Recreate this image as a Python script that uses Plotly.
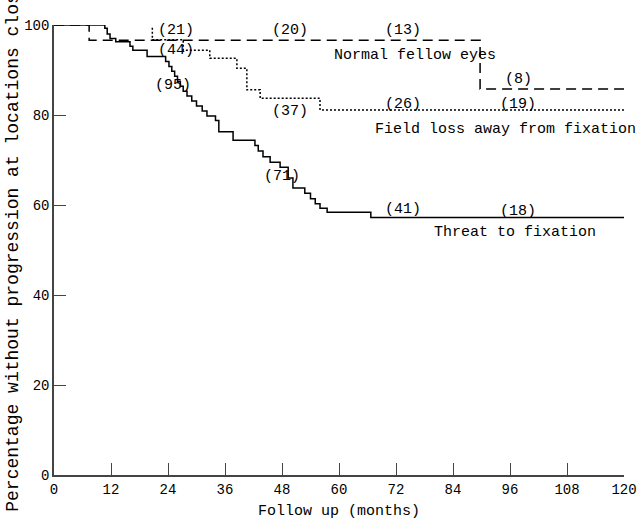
import plotly.graph_objects as go

# Kaplan-Meier style survival steps
threat_months = [0, 10.7, 11.2, 11.8, 13, 16, 16.6, 19.6, 23.5, 24.2, 24.8, 25.4, 26.0, 26.6,
                 27.2, 28.0, 29.0, 30.0, 31.2, 32.2, 34.0, 34.7, 37.7, 42.3, 43.0, 44.0, 45.5,
                 47.6, 49.3, 50.3, 52.8, 54.0, 55.0, 56.0, 57.5, 66.7, 120]
threat_pct = [100, 99.3, 98.0, 97.0, 96.3, 95.3, 94.4, 93.0, 91.9, 90.8, 89.7, 88.6, 87.5, 86.4,
              85.3, 84.2, 83.1, 82.0, 80.9, 79.8, 78.8, 76.3, 74.4, 73.2, 72.0, 70.7, 69.5,
              68.4, 66.0, 63.8, 62.6, 61.4, 60.3, 59.3, 58.4, 57.2, 57.2]

normal_months = [0, 7.4, 89.7, 120]
normal_pct = [100, 96.6, 85.8, 85.8]

field_months = [20.7, 20.7, 27.2, 32.8, 38.5, 40.6, 43.4, 56.0, 120]
field_pct = [99.4, 96.7, 94.4, 92.6, 90.4, 85.6, 83.7, 81.1, 81.1]

# numbers at risk and curve names: (months, percent, text)
label_months = [25.7, 49.7, 73.5, 97.7, 25.7, 25.0, 49.7, 73.5, 97.7, 48.0, 73.5, 97.7]
label_pct = [98.8, 98.8, 98.8, 87.8, 94.4, 86.5, 80.8, 82.3, 82.3, 66.3, 59.0, 58.6]
label_text = ["(21)", "(20)", "(13)", "(8)", "(44)", "(95)", "(37)", "(26)", "(19)",
              "(71)", "(41)", "(18)"]

name_months = [76.0, 95.0, 97.0]
name_pct = [93.3, 76.7, 54.0]
name_text = ["Normal fellow eyes", "Field loss away from fixation", "Threat to fixation"]

FONT = "Liberation Mono"

fig = go.Figure()
fig.add_trace(go.Scatter(x=normal_months, y=normal_pct, mode="lines", line_shape="hv",
                         line=dict(color="black", width=1.5, dash="10px,6px")))
fig.add_trace(go.Scatter(x=field_months, y=field_pct, mode="lines", line_shape="hv",
                         line=dict(color="black", width=1.5, dash="2px,2px")))
fig.add_trace(go.Scatter(x=threat_months, y=threat_pct, mode="lines", line_shape="hv",
                         line=dict(color="black", width=1.5)))

for mx, py, t in zip(label_months, label_pct, label_text):
    fig.add_annotation(x=mx, y=py, text=t, showarrow=False,
                       font=dict(family=FONT, size=15, color="black"))
for mx, py, t in zip(name_months, name_pct, name_text):
    fig.add_annotation(x=mx, y=py, text=t, showarrow=False,
                       font=dict(family=FONT, size=15, color="black"))

# y title runs off the top of the page, as in the original
fig.add_annotation(text="Percentage without progression at locations close to fixation",
                   textangle=-90, xref="paper", yref="paper", x=-0.093, y=-0.085,
                   xanchor="left", yanchor="bottom", showarrow=False,
                   font=dict(family=FONT, size=18, color="black"))

axis_common = dict(showline=True, linecolor="#444", linewidth=1.5, ticks="inside",
                   ticklen=12, tickcolor="#444", tickwidth=1.2, showgrid=False,
                   zeroline=False, automargin=False,
                   tickfont=dict(family=FONT, size=14, color="black"))

fig.update_xaxes(range=[0, 120], tickvals=list(range(0, 121, 12)),
                 title=dict(text="Follow up (months)", font=dict(family=FONT, size=15,
                                                                  color="black"), standoff=8),
                 **axis_common)
fig.update_yaxes(range=[0, 100], tickvals=list(range(0, 101, 20)), **axis_common)

fig.update_layout(width=640, height=521, showlegend=False,
                  plot_bgcolor="white", paper_bgcolor="white",
                  margin=dict(l=54, r=16, t=25, b=46))

# drop the default 8px page margin so the figure sits at the window's corner
fig.write_html("out.html", config={"displayModeBar": False},
               post_script="document.body.style.margin='0';")
